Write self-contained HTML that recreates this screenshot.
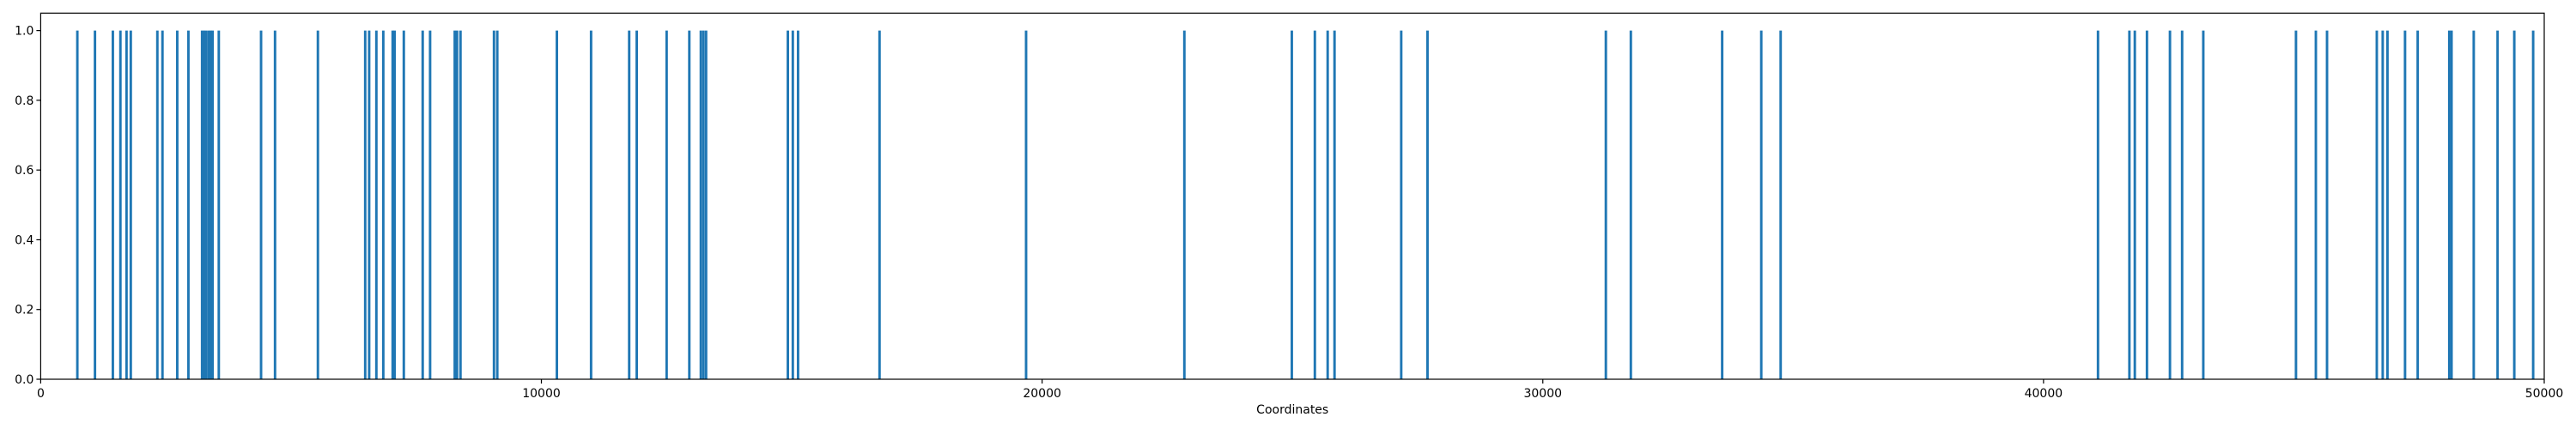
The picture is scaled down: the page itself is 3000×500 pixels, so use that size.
<!DOCTYPE html>
<html><head><meta charset="utf-8"><style>
html,body{margin:0;padding:0;background:#fff;}
svg{display:block;font-family:"DejaVu Sans","Liberation Sans",sans-serif;}
</style></head><body>
<svg id="chart" width="3000" height="500" viewBox="0 0 3000 500" xmlns="http://www.w3.org/2000/svg">
<rect width="3000" height="500" fill="#fff"/>
<g id="bars"></g>
<g id="axes"></g>
</svg>
<script>
const positions = [732,1084,1441,1592,1714,1799,2330,2432,2727,2950,3223,3262,3302,3354,3393,3433,3557,4401,4680,5536,6481,6560,6704,6842,7029,7068,7252,7629,7777,8269,8315,8384,9053,9119,
10309,10992,11753,11904,12501,12954,13184,13236,13289,14922,15021,15126,16753,19680,
22841,24987,25447,25703,25840,27172,27697,31259,31758,33582,34363,34750,
41088,41715,41823,42066,42525,42768,43191,45042,45439,45662,46656,46774,46869,47220,47473,48103,48149,48592,49068,49402,49779];
const heights = positions.map(() => 1);
const xTicks = [0,10000,20000,30000,40000,50000];
const yTicks = [0,0.2,0.4,0.6,0.8,1.0];
const yTickLabels = ["0.0","0.2","0.4","0.6","0.8","1.0"];

const L=47.4, R=2963, T=15.3, B=442;
const xMin=0, xMax=50000, yMin=0, yMax=1.05;
const barWidth=50;
const xs = v => L + (v-xMin)/(xMax-xMin)*(R-L);
const ys = v => B - (v-yMin)/(yMax-yMin)*(B-T);
const NS="http://www.w3.org/2000/svg";
const bars=document.getElementById('bars'), axes=document.getElementById('axes');
function mk(tag, attrs, parent){const e=document.createElementNS(NS,tag);for(const k in attrs)e.setAttribute(k,attrs[k]);parent.appendChild(e);return e;}

positions.forEach((p,i)=>{
  const x0=xs(p-barWidth/2), x1=xs(p+barWidth/2);
  const r=mk('rect',{x:x0,y:ys(heights[i]),width:Math.max(x1-x0,1),height:ys(0)-ys(heights[i]),fill:'#1f77b4'},bars);
  
  
});

const frame=mk('rect',{x:L,y:T,width:R-L,height:B-T,fill:'none',stroke:'#000','stroke-width':1.2},axes);



xTicks.forEach(t=>{
  const x=xs(t);
  const tk=mk('line',{x1:x,x2:x,y1:B,y2:B+5,stroke:'#000','stroke-width':1.2},axes);
  
  
  const tx=mk('text',{x:x,y:B+21,'text-anchor':'middle','font-size':14,fill:'#000'},axes);
  tx.textContent=String(t);
  
  
});
yTicks.forEach((t,i)=>{
  const y=ys(t);
  const tk=mk('line',{x1:L-5,x2:L,y1:y,y2:y,stroke:'#000','stroke-width':1.2},axes);
  
  
  const tx=mk('text',{x:L-8,y:y+5,'text-anchor':'end','font-size':14,fill:'#000'},axes);
  tx.textContent=yTickLabels[i];
  
  
});
const xl=mk('text',{x:(L+R)/2,y:482,'text-anchor':'middle','font-size':14,fill:'#000'},axes);
xl.textContent='Coordinates';


</script>
</body></html>
